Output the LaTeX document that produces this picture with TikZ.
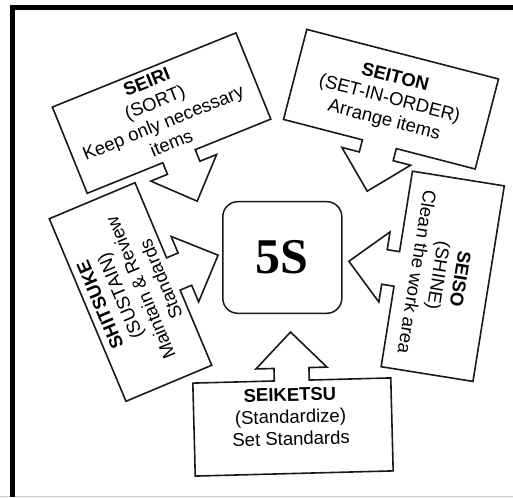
\documentclass[tikz,border=0pt]{standalone}
\usepackage{fontspec}
\setmainfont{Liberation Sans}
\newfontfamily\fivesfont{Liberation Serif}
\begin{document}
\begin{tikzpicture}[x=1pt,y=1pt,
  edge/.style={draw=black!90, line width=1.6pt, line join=miter},
  txt/.style={align=center, font=\fontsize{18.5}{22}\selectfont, inner sep=0pt},
  arrowbox/.pic={\path[edge, fill=white] (-99,46.5) -- (99,46.5) -- (99,-46.5) -- (17.5,-46.5) -- (17.5,-59) -- (35.5,-59) -- (0,-95) -- (-35.5,-59) -- (-17.5,-59) -- (-17.5,-46.5) -- (-99,-46.5) -- cycle;}
]
\useasboundingbox (0,0) rectangle (513,-497);
\fill[white] (0,0) rectangle (513,-497);
% frame
\draw[black!20, line width=1pt] (0,-496) -- (513,-496);
\draw[line width=5pt] (12.5,-497) -- (12.5,-7.5) -- (513,-7.5);

% arrow boxes
\pic[rotate=22] at (161.6,-113.1) {arrowbox};
\pic[rotate=-14.5] at (391,-99.2) {arrowbox};
\pic[rotate=-99.1] at (442.7,-276.3) {arrowbox};
\pic[rotate=112.8] at (130.5,-292) {arrowbox};
\pic[rotate=181.5] at (293,-427) {arrowbox};

% texts
\node[txt, rotate=22] (seiri) at (159,-112.5) {\textbf{SEIRI}\\(SORT)\\Keep only necessary\\items};
\node[txt, rotate=-14.5] (seiton) at (389.4,-99.6) {\textbf{SEITON}\\(SET-IN-ORDER)\\Arrange items};
\node[txt, rotate=-99.1] (seiso) at (438.7,-275.7) {\textbf{SEISO}\\(SHINE)\\Clean the work area};
\node[txt, rotate=112.8] (shitsuke) at (130.5,-292) {\textbf{SHITSUKE}\\(SUSTAIN)\\Maintain \& Review\\Standards};
\node[txt, rotate=1.5] (seiketsu) at (290.5,-416.7) {\textbf{SEIKETSU}\\(Standardize)\\Set Standards};

% center
\node[draw=black!90, line width=1.5pt, rounded corners=15pt, minimum width=119pt, minimum height=111.6pt, inner sep=0pt, font=\fivesfont\bfseries\fontsize{50}{50}\selectfont] (five) at (282.3,-257.5) {5S};
\end{tikzpicture}
\end{document}
